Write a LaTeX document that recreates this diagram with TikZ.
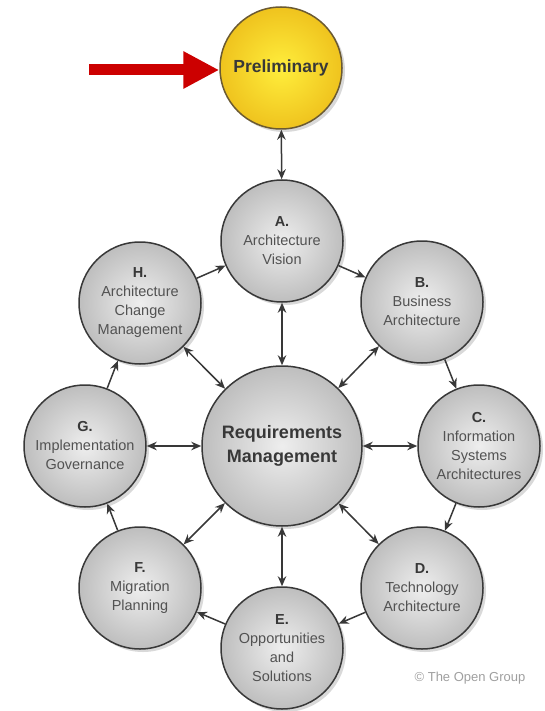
\documentclass[tikz,border=0pt]{standalone}
\usepackage{fontspec}
\setmainfont{Liberation Sans}
\usetikzlibrary{arrows.meta,shadows}
\definecolor{ink}{HTML}{383838}
\definecolor{lbl}{HTML}{525252}
\definecolor{rim}{HTML}{6B5A32}
\definecolor{redarr}{HTML}{CC0000}
\definecolor{phin}{HTML}{EEEEEE}
\definecolor{phout}{HTML}{BEBEBE}
\definecolor{prin}{HTML}{FFEE3C}
\definecolor{prout}{HTML}{EFC31E}
\newcommand\ltr[1]{{\bfseries\color{ink}#1}}
\tikzset{ph/.style = {circle, draw=ink, line width=1.5pt, minimum size=122pt, inner sep=0pt, align=center,
                      inner color=phin, outer color=phout, text=lbl,
                      font=\fontsize{14.5}{19}\selectfont,
                      drop shadow={shadow xshift=3pt, shadow yshift=-3pt, opacity=.15, fill=black}},
           rq/.style = {ph, minimum size=160pt, text=ink, font=\bfseries\fontsize{18}{24}\selectfont},
           pr/.style = {ph, draw=rim, inner color=prin, outer color=prout, text=ink,
                      font=\bfseries\fontsize{17.5}{22}\selectfont},
           ln/.style = {line width=1.5pt, draw=ink}}

\begin{document}
\begin{tikzpicture}[x=1pt, y=-1pt, >={Stealth[length=10pt, width=8.5pt]}]
    \useasboundingbox (0,0) rectangle (545,711);
    % phases round the ring
    \node[pr] (pre) at (281,68)  {Preliminary};
    \node[rq] (rm)  at (282,446) {Requirements\\Management};
    \node[ph] (a) at (282,241) {\ltr{A.}\\Architecture\\Vision};
    \node[ph] (b) at (422,302) {\ltr{B.}\\Business\\Architecture};
    \node[ph] (c) at (479,446) {\ltr{C.}\\Information\\Systems\\Architectures};
    \node[ph] (d) at (422,588) {\ltr{D.}\\Technology\\Architecture};
    \node[ph] (e) at (282,648) {\ltr{E.}\\Opportunities\\and\\Solutions};
    \node[ph] (f) at (140,588) {\ltr{F.}\\Migration\\Planning};
    \node[ph] (g) at (85,446)  {\ltr{G.}\\Implementation\\Governance};
    \node[ph] (h) at (140,303) {\ltr{H.}\\Architecture\\Change\\Management};
    \node[text=gray!75, font=\fontsize{13}{15}\selectfont] (copy) at (470,678) {\textcopyright{} The Open Group};
    % red pointer
    \coordinate (tail) at (89,70);
    \draw[redarr, line width=11pt, -{Triangle[length=36pt, width=35pt]}] (tail) -- (tail -| pre.west);
    % connectors
    \draw[ln, <->] (pre) to (a);
    \draw[ln, ->] (a) to (b);
    \draw[ln, ->] (b) to (c);
    \draw[ln, ->] (c) to (d);
    \draw[ln, ->] (d) to (e);
    \draw[ln, ->] (e) to (f);
    \draw[ln, ->] (f) to (g);
    \draw[ln, ->] (g) to (h);
    \draw[ln, ->] (h) to (a);
    \draw[ln, <->] (rm) to (a);
    \draw[ln, <->] (rm) to (b);
    \draw[ln, <->] (rm) to (c);
    \draw[ln, <->] (rm) to (d);
    \draw[ln, <->] (rm) to (e);
    \draw[ln, <->] (rm) to (f);
    \draw[ln, <->] (rm) to (g);
    \draw[ln, <->] (rm) to (h);
\end{tikzpicture}
\end{document}
